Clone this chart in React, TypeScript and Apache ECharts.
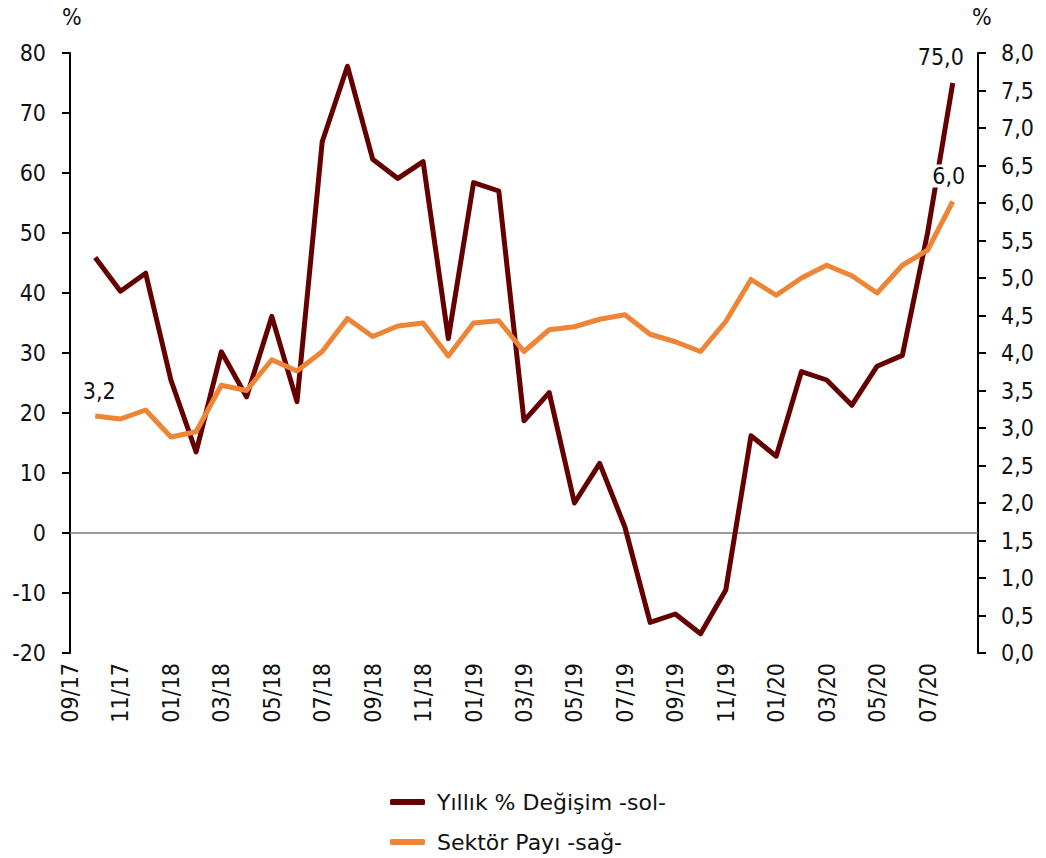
import React, { useEffect, useRef } from "react";
import * as echarts from "echarts";

const categories = [
  "09/17", "10/17", "11/17", "12/17", "01/18", "02/18", "03/18", "04/18", "05/18", "06/18",
  "07/18", "08/18", "09/18", "10/18", "11/18", "12/18", "01/19", "02/19", "03/19", "04/19",
  "05/19", "06/19", "07/19", "08/19", "09/19", "10/19", "11/19", "12/19", "01/20", "02/20",
  "03/20", "04/20", "05/20", "06/20", "07/20", "08/20", "09/20",
];

const yillikDegisim: (number | null)[] = [
  null, 45.9, 40.3, 43.3, 25.5, 13.5, 30.2, 22.7, 36.1, 21.9,
  65.2, 77.8, 62.3, 59.1, 61.9, 32.4, 58.4, 57.0, 18.7, 23.4,
  5.0, 11.6, 1.0, -14.9, -13.5, -16.8, -9.5, 16.2, 12.8, 26.9,
  25.5, 21.3, 27.8, 29.6, 50.0, 75.0, null,
];

const sektorPayi: (number | null)[] = [
  null, 3.16, 3.12, 3.24, 2.88, 2.95, 3.57, 3.5, 3.91, 3.76,
  4.02, 4.46, 4.22, 4.36, 4.4, 3.96, 4.4, 4.43, 4.02, 4.31,
  4.35, 4.45, 4.51, 4.25, 4.15, 4.02, 4.42, 4.98, 4.77, 5.0,
  5.17, 5.03, 4.8, 5.17, 5.37, 6.02, null,
];

const seriesNames = ["Yıllık % Değişim -sol-", "Sektör Payı -sağ-"];

const FONT = "'DejaVu Sans Condensed', 'DejaVu Sans'";
const LEGEND_FONT = "'DejaVu Sans'";
const FS = 23;
const TEXT = "#111111";
const DARK = "#650000";
const ORANGE = "#EE8435";

const fmt = (v: number) => v.toFixed(1).replace(".", ",");

export default function App() {
  const ref = useRef<HTMLDivElement>(null);
  useEffect(() => {
    if (!ref.current) return;
    const chart = echarts.init(ref.current, null, { renderer: "svg" });

    const lastIdx = 35;
    const labelStyle = (offset: number[], bg?: string) => ({
      show: true,
      position: "top",
      distance: 5,
      offset,
      formatter: (p: any) => fmt(p.value),
      fontFamily: FONT,
      fontSize: FS,
      color: TEXT,
      backgroundColor: bg || "transparent",
      padding: [0, 1],
    });
    const darkData = yillikDegisim.map((v, i) =>
      i === lastIdx ? { value: v, label: labelStyle([-12, -10]) } : v
    );
    const orangeData = sektorPayi.map((v, i) =>
      i === lastIdx
        ? { value: v, label: labelStyle([-4, -9], "#ffffff") }
        : i === 1
        ? { value: v, label: labelStyle([4, -9]) }
        : v
    );

    chart.setOption({
      animation: false,
      backgroundColor: "#ffffff",
      textStyle: { fontFamily: FONT },
      grid: { left: 70, right: 68, top: 53, bottom: 205, outerBoundsMode: "none", containLabel: false },
      legend: {
        orient: "vertical",
        left: 390,
        top: 791,
        padding: 0,
        itemWidth: 35,
        itemHeight: 6,
        itemGap: 18,
        icon: "roundRect",
        textStyle: { fontFamily: LEGEND_FONT, fontSize: 22, color: TEXT, padding: [0, 0, 0, 7] },
        data: seriesNames,
      },
      graphic: [
        { type: "text", left: 62, top: 5, style: { text: "%", fontFamily: FONT, fontSize: FS, fill: TEXT } },
        { type: "text", left: 972, top: 5, style: { text: "%", fontFamily: FONT, fontSize: FS, fill: TEXT } },
      ],
      xAxis: {
        type: "category",
        data: categories,
        boundaryGap: false,
        axisLine: { show: false, onZero: false },
        axisTick: { show: false },
        splitLine: { show: false },
        axisLabel: {
          interval: (index: number) => index % 2 === 0 && index < 36,
          rotate: 90,
          margin: 10,
          fontFamily: FONT,
          fontSize: FS,
          color: TEXT,
        },
      },
      yAxis: [
        {
          type: "value",
          min: -20,
          max: 80,
          interval: 10,
          position: "left",
          axisLine: { show: true, lineStyle: { color: "#000", width: 2 } },
          axisTick: { show: true, length: 8, lineStyle: { color: "#000", width: 2 } },
          splitLine: { show: false },
          axisLabel: { margin: 24, fontFamily: FONT, fontSize: FS, color: TEXT },
        },
        {
          type: "value",
          min: 0,
          max: 8,
          interval: 0.5,
          position: "right",
          axisLine: { show: true, lineStyle: { color: "#000", width: 2 } },
          axisTick: { show: true, length: 8, lineStyle: { color: "#000", width: 2 } },
          splitLine: { show: false },
          axisLabel: {
            margin: 23,
            fontFamily: FONT,
            fontSize: FS,
            color: TEXT,
            formatter: (v: number) => fmt(v),
          },
        },
      ],
      series: [
        {
          name: seriesNames[0],
          type: "line",
          yAxisIndex: 0,
          data: darkData,
          showSymbol: true,
          symbol: "circle",
          symbolSize: 0,
          lineStyle: { color: DARK, width: 5, join: "round" },
          itemStyle: { color: DARK },
          z: 2,
          markLine: {
            silent: true,
            symbol: "none",
            label: { show: false },
            lineStyle: { color: "#7a7a7a", width: 1.5, type: "solid" },
            data: [{ yAxis: 0 }],
            z: 1,
          },
        },
        {
          name: seriesNames[1],
          type: "line",
          yAxisIndex: 1,
          data: orangeData,
          showSymbol: true,
          symbol: "circle",
          symbolSize: 0,
          lineStyle: { color: ORANGE, width: 5, join: "round" },
          itemStyle: { color: ORANGE },
          z: 3,
        },
      ],
    });
    return () => chart.dispose();
  }, []);

  return (
    <div
      ref={ref}
      style={{ position: "fixed", left: 0, top: 0, width: 1046, height: 858 }}
    />
  );
}
